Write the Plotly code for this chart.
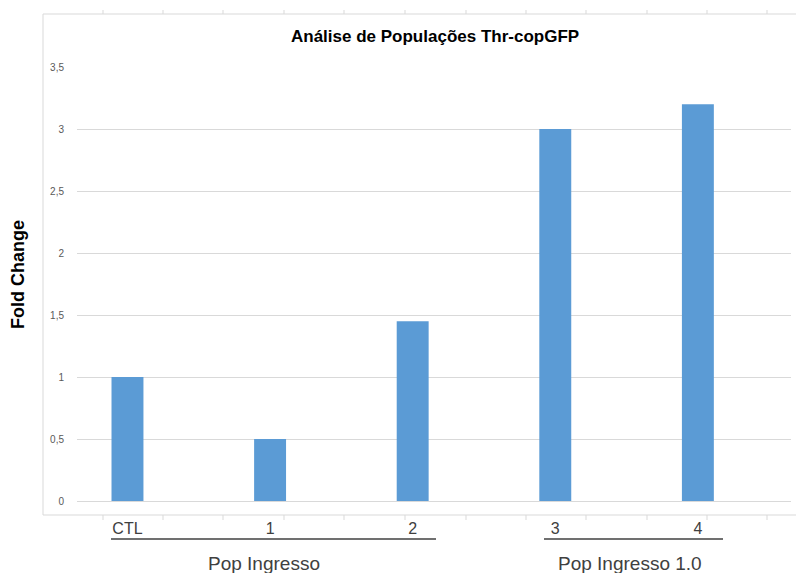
import plotly.graph_objects as go

# Chart data
categories = ["CTL", "1", "2", "3", "4"]
fold_change = [1.0, 0.5, 1.45, 3.0, 3.2]
y_tick_values = [0, 0.5, 1, 1.5, 2, 2.5, 3, 3.5]
y_tick_labels = ["0", "0,5", "1", "1,5", "2", "2,5", "3", "3,5"]
group_names = ["Pop Ingresso", "Pop Ingresso 1.0"]

W, H = 796, 573
# plot area in pixels
L, R, T, B = 77, 791, 67, 501


def px(x):
    return (x - L) / (R - L)


def py(y):
    return (B - y) / (B - T)


fig = go.Figure(
    go.Bar(
        x=categories,
        y=fold_change,
        width=0.224,
        marker=dict(color="#5B9BD5", line=dict(width=0)),
        hoverinfo="x+y",
    )
)

shapes = []
line_grey = "#D9D9D9"
# chart-area frame: left, top and bottom edges
shapes.append(dict(type="line", xref="paper", yref="paper", x0=px(43), x1=px(43),
                   y0=py(14), y1=py(515), line=dict(color=line_grey, width=1)))
shapes.append(dict(type="line", xref="paper", yref="paper", x0=px(43), x1=px(796),
                   y0=py(14), y1=py(14), line=dict(color=line_grey, width=1)))
shapes.append(dict(type="line", xref="paper", yref="paper", x0=px(43), x1=px(796),
                   y0=py(515), y1=py(515), line=dict(color=line_grey, width=1)))
# small cell marks along the frame
for xm in [103, 163, 223, 284, 344, 405, 466, 526, 586, 647, 707, 767]:
    shapes.append(dict(type="line", xref="paper", yref="paper", x0=px(xm), x1=px(xm),
                       y0=py(10), y1=py(14), line=dict(color=line_grey, width=1)))
    shapes.append(dict(type="line", xref="paper", yref="paper", x0=px(xm), x1=px(xm),
                       y0=py(515), y1=py(520), line=dict(color=line_grey, width=1)))

# group brackets under the category labels
group_spans = [(111, 436), (544, 723)]
for x0, x1 in group_spans:
    shapes.append(dict(type="line", xref="paper", yref="paper", x0=px(x0), x1=px(x1),
                       y0=py(539), y1=py(539), line=dict(color="#404040", width=1.5)))

annotations = [
    dict(text="<b>Análise de Populações Thr-copGFP</b>", xref="paper", yref="paper",
         x=px(435), y=py(37), showarrow=False, xanchor="center", yanchor="middle",
         font=dict(family="Liberation Sans, Arial", size=17, color="#000000")),
    dict(text="<b>Fold Change</b>", xref="paper", yref="paper",
         x=px(18), y=py(275), showarrow=False, xanchor="center", yanchor="middle",
         textangle=-90,
         font=dict(family="Liberation Sans, Arial", size=18, color="#000000")),
]
for name, cx in zip(group_names, [264, 630]):
    annotations.append(dict(text=name, xref="paper", yref="paper", x=px(cx), y=py(563),
                            showarrow=False, xanchor="center", yanchor="middle",
                            font=dict(family="Liberation Sans, Arial", size=19,
                                      color="#404040")))

fig.update_layout(
    width=W,
    height=H,
    margin=dict(l=L, r=W - R, t=T, b=H - B, pad=0),
    paper_bgcolor="white",
    plot_bgcolor="white",
    showlegend=False,
    shapes=shapes,
    annotations=annotations,
    xaxis=dict(
        type="category",
        range=[-0.354, 4.653],
        showgrid=False,
        showline=False,
        zeroline=False,
        ticks="",
        ticklabelstandoff=16,
        tickfont=dict(family="Liberation Sans, Arial", size=16, color="#404040"),
    ),
    yaxis=dict(
        range=[0, 3.5],
        tickvals=y_tick_values,
        ticktext=y_tick_labels,
        showgrid=True,
        gridcolor=line_grey,
        gridwidth=1,
        zeroline=True,
        zerolinecolor=line_grey,
        zerolinewidth=1,
        showline=False,
        ticks="",
        ticklabelstandoff=12,
        tickfont=dict(family="Liberation Sans, Arial", size=10, color="#595959"),
    ),
)

fig.write_html("out.html")
